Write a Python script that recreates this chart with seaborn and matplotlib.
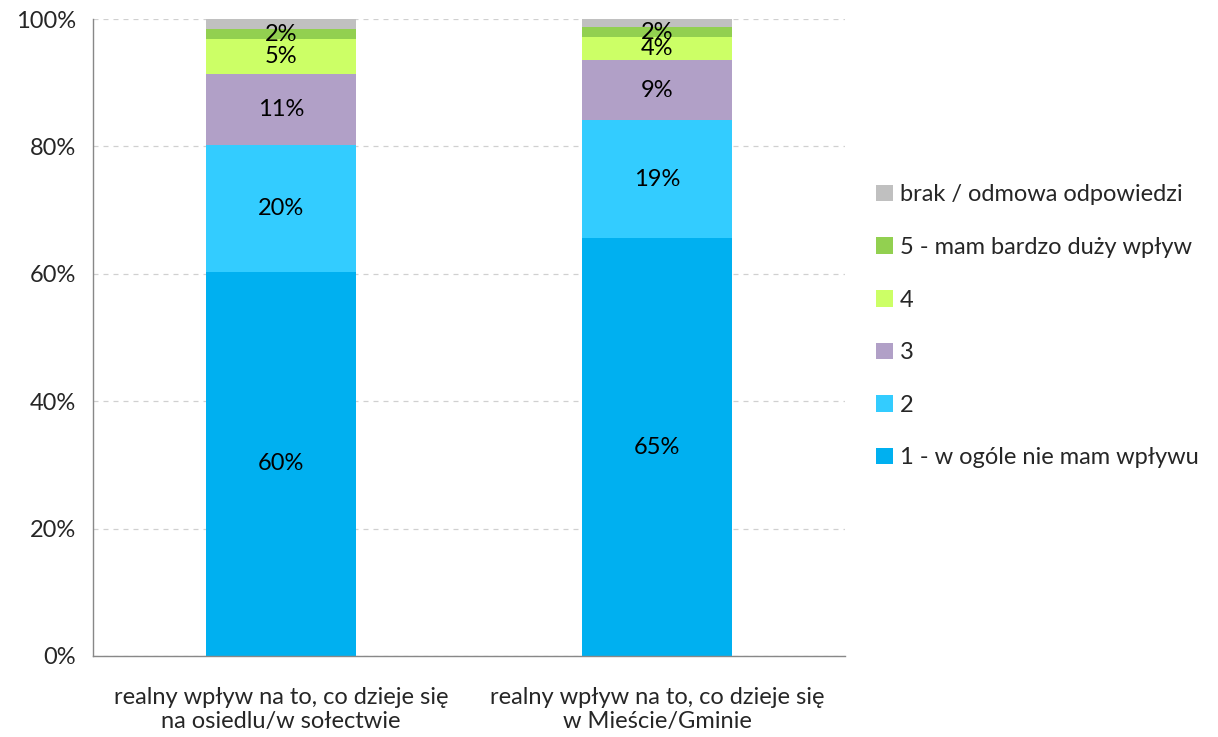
import matplotlib
matplotlib.use("Agg")
import matplotlib.pyplot as plt
import seaborn as sns
import numpy as np
from matplotlib.patches import Patch

categories = ["realny wpływ na to, co dzieje się\nna osiedlu/w sołectwie",
              "realny wpływ na to, co dzieje się\nw Mieście/Gminie"]
series_names = ["1 - w ogóle nie mam wpływu", "2", "3", "4",
                "5 - mam bardzo duży wpływ", "brak / odmowa odpowiedzi"]
s1 = [60.3, 65.6]
s2 = [19.9, 18.5]
s3 = [11.2, 9.5]
s4 = [5.4, 3.6]
s5 = [1.6, 1.5]
s_brak = [1.6, 1.3]
labels1 = ["60%", "65%"]
labels2 = ["20%", "19%"]
labels3 = ["11%", "9%"]
labels4 = ["5%", "4%"]
labels5 = ["2%", "2%"]
labels_brak = ["", ""]
colors = ["#00B0F0", "#33CCFF", "#B1A0C7", "#CCFF66", "#92D050", "#C0C0C0"]

sns.set_style("white")
plt.rcParams['font.family'] = ['Lato', 'DejaVu Sans']
FS = 17

fig = plt.figure(figsize=(12.18, 7.37), dpi=100)
ax = fig.add_axes([93/1218, 1-656/737, (845-93)/1218, (656-19)/737])

all_series = [s1, s2, s3, s4, s5, s_brak]
all_labels = [labels1, labels2, labels3, labels4, labels5, labels_brak]
bottom = np.zeros(len(categories))
for vals, labs, col in zip(all_series, all_labels, colors):
    sns.barplot(x=categories, y=vals, bottom=bottom, color=col, width=0.4,
                ax=ax, saturation=1, edgecolor="none", linewidth=0)
    cont = ax.containers[-1]
    ax.bar_label(cont, labels=labs, label_type="center", fontsize=FS, color="black")
    bottom = bottom + np.array(vals)

ax.set_ylim(0, 100)
ax.set_xlim(-0.5, 1.5)
ax.set_yticks([0, 20, 40, 60, 80, 100])
ax.set_yticklabels(["0%", "20%", "40%", "60%", "80%", "100%"], fontsize=FS)
ax.yaxis.grid(True, linestyle=(0, (4, 4)), color="#D0D0D0", linewidth=0.9)
ax.set_axisbelow(True)
ax.tick_params(axis="x", which="major", length=0, labelsize=FS, pad=22)
ax.set_xticks([-0.5, 0.5, 1.5], minor=True)
ax.tick_params(axis="x", which="minor", length=6, color="#888888", direction="out", width=1)
ax.tick_params(axis="y", which="major", length=6, color="#888888", direction="out", width=1, pad=6)
for sp in ["top", "right"]:
    ax.spines[sp].set_visible(False)
for sp in ["left", "bottom"]:
    ax.spines[sp].set_color("#888888")
    ax.spines[sp].set_linewidth(1)
ax.set_xlabel("")
ax.set_ylabel("")

handles = [Patch(facecolor=c, edgecolor="none") for c in colors]
leg = fig.legend(handles[::-1], series_names[::-1], loc="upper left",
                 bbox_to_anchor=(855/1218, 1-163/737), frameon=False,
                 fontsize=FS, labelspacing=1.34, handlelength=0.7,
                 handleheight=0.7, handletextpad=0.3)

fig.savefig("out.png", dpi=100)
